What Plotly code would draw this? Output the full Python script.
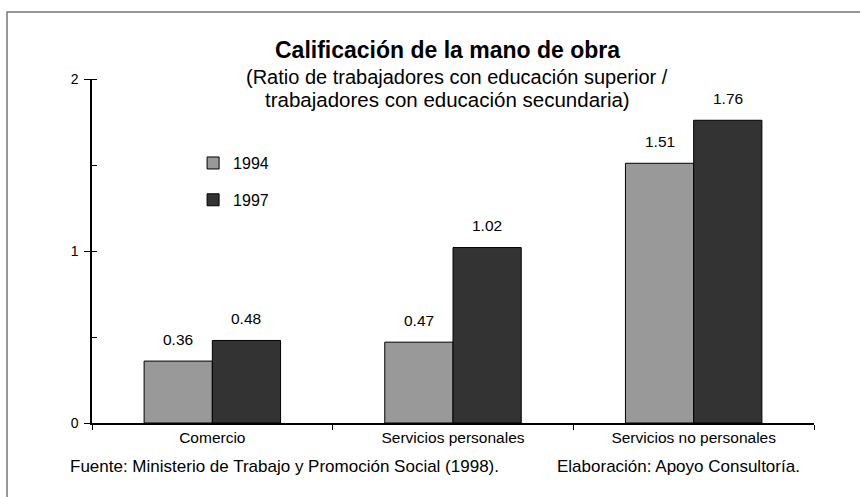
import plotly.graph_objects as go

categories = ['Comercio', 'Servicios personales', 'Servicios no personales']
years = ['1994', '1997']
ratio_1994 = [0.36, 0.47, 1.51]
ratio_1997 = [0.48, 1.02, 1.76]

bar_colors = {'1994': '#999999', '1997': '#333333'}
FONT = 'Liberation Sans, Arial, sans-serif'

fig = go.Figure()

for yr, vals in zip(years, [ratio_1994, ratio_1997]):
    fig.add_trace(go.Bar(
        x=categories,
        y=vals,
        name=yr,
        legendgroup=yr,
        marker=dict(color=bar_colors[yr], line=dict(color='black', width=1)),
        hoverinfo='x+y'
    ))

# value labels above each bar
for yr, vals, shift in zip(years, [ratio_1994, ratio_1997], [-34, 34]):
    for cat, v in zip(categories, vals):
        fig.add_annotation(
            x=cat, y=v, text=f'{v:.2f}', showarrow=False,
            xshift=shift, yshift=22,
            font=dict(family=FONT, size=15.5, color='black')
        )

fig.add_annotation(
    xref='paper', yref='paper', x=0.4917, y=1.084,
    text='<b>Calificación de la mano de obra</b>', showarrow=False,
    font=dict(family=FONT, size=23, color='black'), xanchor='center', yanchor='middle'
)
fig.add_annotation(
    xref='paper', yref='paper', x=0.5062, y=1.006,
    text='(Ratio de trabajadores con educación superior /', showarrow=False,
    font=dict(family=FONT, size=20, color='black'), xanchor='center', yanchor='middle'
)
fig.add_annotation(
    xref='paper', yref='paper', x=0.4924, y=0.939,
    text='trabajadores con educación secundaria)', showarrow=False,
    font=dict(family=FONT, size=20.5, color='black'), xanchor='center', yanchor='middle'
)
fig.add_annotation(
    xref='paper', yref='paper', x=-0.0332, y=-0.125,
    text='Fuente: Ministerio de Trabajo y Promoción Social (1998).', showarrow=False,
    font=dict(family=FONT, size=17, color='black'), xanchor='left', yanchor='middle'
)
fig.add_annotation(
    xref='paper', yref='paper', x=0.9834, y=-0.125,
    text='Elaboración: Apoyo Consultoría.', showarrow=False,
    font=dict(family=FONT, size=17, color='black'), xanchor='right', yanchor='middle'
)

# outer frame (only top and left edges visible in the original)
fig.add_shape(
    type='rect', xref='paper', yref='paper',
    x0=-0.1177, x1=1.3, y0=-0.4, y1=1.1948,
    line=dict(color='#777777', width=1.5)
)

fig.update_layout(
    width=860, height=497,
    margin=dict(l=92, r=46, t=79, b=74),
    paper_bgcolor='white', plot_bgcolor='white',
    font=dict(family=FONT, color='black'),
    barmode='group', bargap=0.433, bargroupgap=0,
    legend=dict(
        x=0.14, y=0.805, xanchor='left', yanchor='top',
        font=dict(family=FONT, size=16, color='black'),
        tracegroupgap=13, bgcolor='rgba(0,0,0,0)'
    ),
    xaxis=dict(
        showline=True, linecolor='black', linewidth=1.5,
        ticks='outside', tickson='boundaries', ticklen=5, tickcolor='black',
        tickfont=dict(family=FONT, size=15.5, color='black'),
        showgrid=False, zeroline=False
    ),
    yaxis=dict(
        range=[0, 2], tickvals=[0, 1, 2],
        showline=True, linecolor='black', linewidth=1.5,
        ticks='outside', ticklen=6, tickcolor='black', ticklabelstandoff=3,
        minor=dict(dtick=0.5, ticks='inside', ticklen=5, tickcolor='black'),
        tickfont=dict(family=FONT, size=14, color='black'),
        showgrid=False, zeroline=False
    )
)

# drop the default page margin so the figure sits at the window's corner
fig.write_html('out.html', config={'displayModeBar': False},
               post_script="document.body.style.margin='0';")
